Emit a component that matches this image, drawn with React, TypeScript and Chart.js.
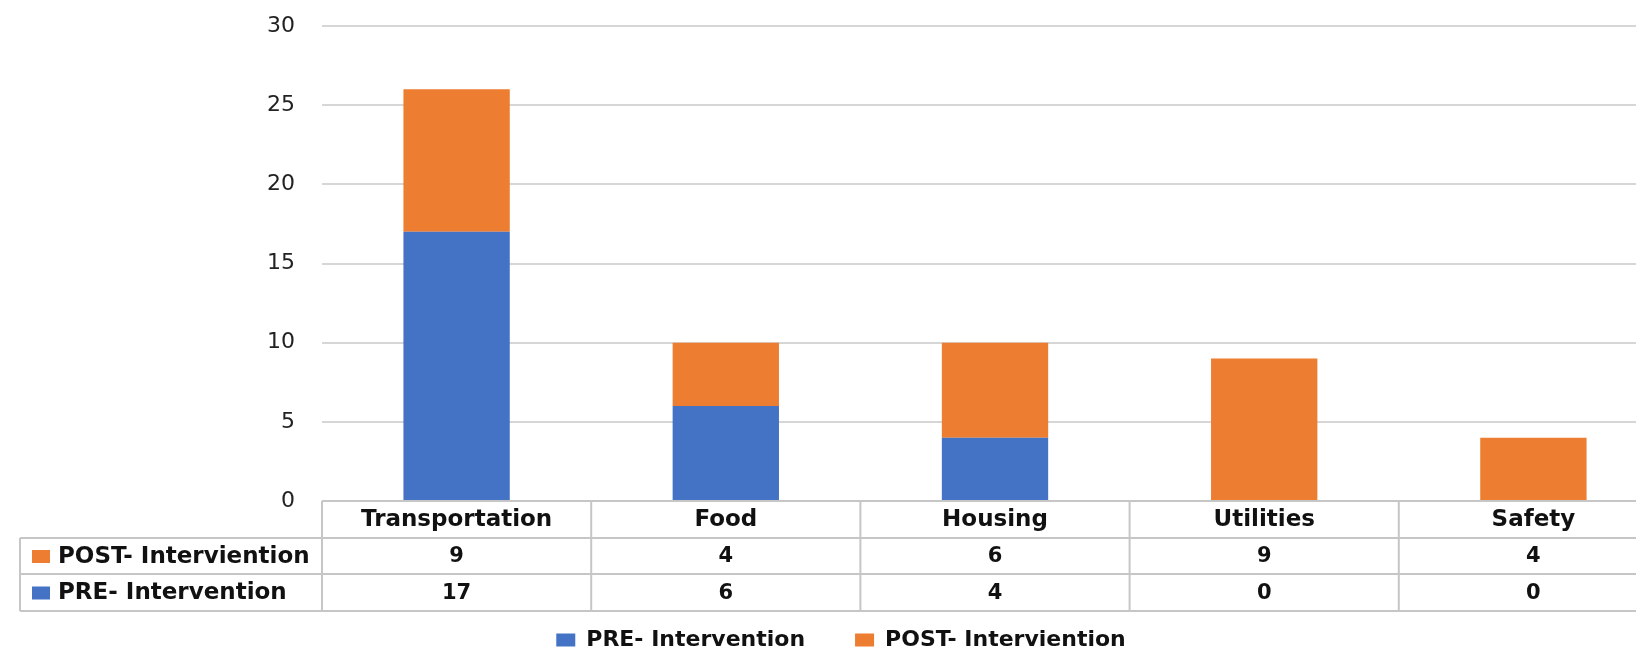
import React, { useEffect, useRef } from "react";
import { Chart, registerables } from "chart.js";

Chart.register(...registerables);

// ---- data ----
const categories: string[] = ["Transportation", "Food", "Housing", "Utilities", "Safety"];
const preValues: number[] = [17, 6, 4, 0, 0];
const postValues: number[] = [9, 4, 6, 9, 4];
const preLabel = "PRE- Intervention";
const postLabel = "POST- Interviention";
const yMin = 0;
const yMax = 30;
const yStep = 5;

const BLUE = "#4472C4";
const ORANGE = "#ED7D31";
const FONT = "'DejaVu Sans', sans-serif";
const LINE = "#c6c6c6";

const tablePlugin = {
  id: "dataTable",
  afterDraw(chart: any) {
    const ctx: CanvasRenderingContext2D = chart.ctx;
    const xs = chart.scales.x;
    const area = chart.chartArea;
    const n = categories.length;
    const bounds: number[] = [];
    for (let i = 0; i <= n; i++) bounds.push(xs.getPixelForValue(i - 0.5));
    const r0 = area.bottom;
    const r1 = r0 + 37;
    const r2 = r0 + 73;
    const r3 = r0 + 110;
    const headLeft = area.left - 302;
    const right = bounds[n];

    ctx.save();
    ctx.strokeStyle = LINE;
    ctx.lineWidth = 2;
    ctx.beginPath();
    ctx.moveTo(area.left, r0);
    ctx.lineTo(right, r0);
    [r1, r2, r3].forEach((y) => {
      ctx.moveTo(headLeft, y);
      ctx.lineTo(right, y);
    });
    ctx.moveTo(headLeft, r1);
    ctx.lineTo(headLeft, r3);
    bounds.forEach((bx) => {
      ctx.moveTo(bx, r0);
      ctx.lineTo(bx, r3);
    });
    ctx.stroke();

    ctx.fillStyle = "#111";
    ctx.textBaseline = "middle";
    ctx.textAlign = "center";
    ctx.font = `bold 23px ${FONT}`;
    categories.forEach((c, i) => {
      ctx.fillText(c, (bounds[i] + bounds[i + 1]) / 2, (r0 + r1) / 2 + 1);
    });
    ctx.font = `bold 21px ${FONT}`;
    postValues.forEach((v, i) => {
      ctx.fillText(String(v), (bounds[i] + bounds[i + 1]) / 2, (r1 + r2) / 2 + 1);
    });
    preValues.forEach((v, i) => {
      ctx.fillText(String(v), (bounds[i] + bounds[i + 1]) / 2, (r2 + r3) / 2 + 1);
    });

    const rows = [
      { label: postLabel, color: ORANGE, y: (r1 + r2) / 2 },
      { label: preLabel, color: BLUE, y: (r2 + r3) / 2 },
    ];
    ctx.textAlign = "left";
    ctx.font = `bold 23px ${FONT}`;
    rows.forEach((r) => {
      ctx.fillStyle = r.color;
      ctx.fillRect(headLeft + 12, r.y - 6, 18, 13);
      ctx.fillStyle = "#111";
      ctx.fillText(r.label, headLeft + 38, r.y + 1);
    });
    ctx.restore();
  },
};

export default function App() {
  const ref = useRef<HTMLCanvasElement | null>(null);

  useEffect(() => {
    if (!ref.current) return;
    const chart = new Chart(ref.current, {
      type: "bar",
      data: {
        labels: categories,
        datasets: [
          {
            label: preLabel,
            data: preValues,
            backgroundColor: BLUE,
            borderWidth: 0,
            barPercentage: 0.395,
            categoryPercentage: 1,
          },
          {
            label: postLabel,
            data: postValues,
            backgroundColor: ORANGE,
            borderWidth: 0,
            barPercentage: 0.395,
            categoryPercentage: 1,
          },
        ],
      },
      options: {
        responsive: false,
        animation: false,
        devicePixelRatio: 1,
        layout: { padding: { left: 14, right: 14, top: 26, bottom: 0 } },
        plugins: {
          legend: {
            position: "bottom",
            labels: {
              boxWidth: 19,
              boxHeight: 13,
              padding: 50,
              color: "#111",
              font: { family: FONT, size: 22, weight: "bold" },
            },
          },
          tooltip: { enabled: false },
        },
        scales: {
          x: {
            stacked: true,
            grid: { display: false },
            border: { display: false },
            ticks: { display: false },
            afterFit: (s: any) => {
              s.height = 78;
            },
          },
          y: {
            stacked: true,
            min: yMin,
            max: yMax,
            ticks: {
              stepSize: yStep,
              padding: 27,
              color: "#222",
              font: { family: FONT, size: 22 },
            },
            grid: { color: "#d6d6d6", lineWidth: 2, drawTicks: false },
            border: { display: false },
            afterFit: (s: any) => {
              s.width = 308;
              s.paddingTop = 13;
              s.paddingBottom = 13;
            },
          },
        },
      },
      plugins: [tablePlugin],
    });
    return () => chart.destroy();
  }, []);

  return (
    <div
      style={{
        position: "fixed",
        left: 0,
        top: 0,
        width: 1636,
        height: 654,
        overflow: "hidden",
        background: "#fff",
      }}
    >
      <canvas ref={ref} width={1682} height={661} style={{ display: "block" }} />
    </div>
  );
}
